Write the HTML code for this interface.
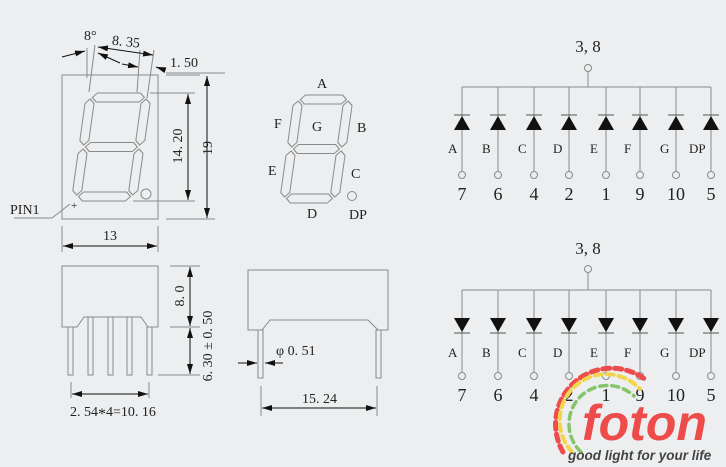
<!DOCTYPE html>
<html><head><meta charset="utf-8"><style>
html,body{margin:0;padding:0;background:#eceef0;}
svg{display:block;}
text{font-family:"Liberation Serif","DejaVu Serif",serif;fill:#222;}
</style></head><body>
<svg width="726" height="467" viewBox="0 0 726 467" xmlns="http://www.w3.org/2000/svg">
<defs>
<marker id="ar" viewBox="0 0 10 6" refX="10" refY="3" markerWidth="10" markerHeight="6" orient="auto-start-reverse" markerUnits="userSpaceOnUse"><path d="M0,0L10,3L0,6z" fill="#111"/></marker>
</defs>
<rect width="726" height="467" fill="#eceef0"/>

<!-- big front view -->
<g stroke="#8a8a8a" fill="none" stroke-width="1">
<rect x="62" y="75" width="96" height="144"/>
<g transform="translate(90,93) skewX(-8)">
<polygon points="3,4.5 7.5,0 50.5,0 55,4.5 50.5,9 7.5,9"/>
<polygon points="3,54 7.5,49.5 50.5,49.5 55,54 50.5,58.5 7.5,58.5"/>
<polygon points="3,103.5 7.5,99 50.5,99 55,103.5 50.5,108 7.5,108"/>
<polygon points="1,6 5.5,10.5 5.5,47.5 1,52 -3.5,47.5 -3.5,10.5"/>
<polygon points="57,6 61.5,10.5 61.5,47.5 57,52 52.5,47.5 52.5,10.5"/>
<polygon points="1,56 5.5,60.5 5.5,97.5 1,102 -3.5,97.5 -3.5,60.5"/>
<polygon points="57,56 61.5,60.5 61.5,97.5 57,102 52.5,97.5 52.5,60.5"/>
</g>
<circle cx="146" cy="194" r="5"/>
<line x1="87" y1="48" x2="87" y2="78"/>
<line x1="95" y1="45" x2="89" y2="92"/>
<line x1="140" y1="50" x2="137" y2="92"/>
<line x1="154" y1="50" x2="147" y2="98"/>
<line x1="166" y1="75" x2="200" y2="75"/>
<line x1="166" y1="73" x2="225" y2="73"/>
<line x1="150" y1="93" x2="195" y2="93"/>
<line x1="133" y1="201" x2="195" y2="201"/>
<line x1="166" y1="219" x2="215" y2="219"/>
<line x1="14" y1="218" x2="52" y2="218"/>
<line x1="52" y1="218" x2="70" y2="204"/>
<line x1="62" y1="226" x2="62" y2="252"/>
<line x1="158" y1="226" x2="158" y2="252"/>
</g>
<g stroke="#111" stroke-width="1" fill="none">
<line x1="62" y1="57" x2="85" y2="51" marker-end="url(#ar)"/>
<line x1="98" y1="47" x2="153" y2="55" marker-start="url(#ar)" marker-end="url(#ar)"/>
<line x1="98" y1="53" x2="120" y2="63" marker-start="url(#ar)"/>
<line x1="122" y1="64" x2="138" y2="67" marker-end="url(#ar)"/>
<line x1="165" y1="70" x2="156" y2="67" marker-end="url(#ar)"/>
<line x1="207" y1="76" x2="207" y2="218" marker-start="url(#ar)" marker-end="url(#ar)"/>
<line x1="188" y1="94" x2="188" y2="200" marker-start="url(#ar)" marker-end="url(#ar)"/>
<line x1="63" y1="246" x2="157" y2="246" marker-start="url(#ar)" marker-end="url(#ar)"/>
</g>
<text x="84" y="40" font-size="14">8°</text>
<text x="112" y="46" font-size="14" transform="rotate(6 125 42)">8. 35</text>
<text x="170" y="67" font-size="14">1. 50</text>
<text x="10" y="214" font-size="14">PIN1</text>
<text x="71" y="209" font-size="11">+</text>
<text x="103" y="240" font-size="14">13</text>
<text transform="translate(212,148) rotate(-90)" font-size="14" text-anchor="middle">19</text>
<text transform="translate(182,146) rotate(-90)" font-size="14" text-anchor="middle">14. 20</text>

<!-- lower left -->
<g stroke="#8a8a8a" fill="none" stroke-width="1">
<path d="M62,327 L62,266 L158,266 L158,327 L148,327 L141,317 L84,317 L77,327 Z"/>
<rect x="68" y="327" width="5" height="48"/><rect x="88" y="317" width="5" height="58"/><rect x="108" y="317" width="5" height="58"/><rect x="127" y="317" width="5" height="58"/><rect x="147" y="327" width="5" height="48"/>
<line x1="170" y1="266" x2="200" y2="266"/><line x1="170" y1="327" x2="200" y2="327"/><line x1="158" y1="375" x2="200" y2="375"/>
<line x1="71" y1="382" x2="71" y2="398"/><line x1="149" y1="382" x2="149" y2="398"/>
</g>
<g stroke="#111" stroke-width="1">
<line x1="190" y1="267" x2="190" y2="326" marker-start="url(#ar)" marker-end="url(#ar)"/>
<line x1="190" y1="328" x2="190" y2="374" marker-start="url(#ar)" marker-end="url(#ar)"/>
<line x1="72" y1="394" x2="148" y2="394" marker-start="url(#ar)" marker-end="url(#ar)"/>
</g>
<text transform="translate(184,296) rotate(-90)" font-size="14" text-anchor="middle">8. 0</text>
<text transform="translate(212,346) rotate(-90)" font-size="14" text-anchor="middle">6. 30 ± 0. 50</text>
<text x="70" y="416" font-size="14">2. 54<tspan font-size="16" dy="3">*</tspan><tspan dy="-3">4=10. 16</tspan></text>

<!-- side view -->
<g stroke="#8a8a8a" fill="none" stroke-width="1">
<path d="M248,330 L248,270 L388,270 L388,330 L378,330 L368,320 L270,320 L262,330 Z"/>
<rect x="258" y="330" width="5" height="48"/><rect x="376" y="330" width="5" height="48"/>
<line x1="261" y1="386" x2="261" y2="416"/><line x1="377" y1="386" x2="377" y2="416"/>
</g>
<g stroke="#111" stroke-width="1">
<line x1="238" y1="363" x2="257" y2="363" marker-end="url(#ar)"/>
<line x1="283" y1="363" x2="265" y2="363" marker-end="url(#ar)"/>
<line x1="262" y1="408" x2="376" y2="408" marker-start="url(#ar)" marker-end="url(#ar)"/>
</g>
<text x="276" y="355" font-size="14">φ 0. 51</text>
<text x="302" y="403" font-size="14">15. 24</text>

<!-- small digit -->
<g stroke="#8a8a8a" fill="none" stroke-width="1" transform="translate(298,95) skewX(-8)">
<polygon points="3,4.5 7.5,0 44.5,0 49,4.5 44.5,9 7.5,9"/>
<polygon points="3,54 7.5,49.5 44.5,49.5 49,54 44.5,58.5 7.5,58.5"/>
<polygon points="3,103.5 7.5,99 44.5,99 49,103.5 44.5,108 7.5,108"/>
<polygon points="1,6 5.5,10.5 5.5,47.5 1,52 -3.5,47.5 -3.5,10.5"/>
<polygon points="51,6 55.5,10.5 55.5,47.5 51,52 46.5,47.5 46.5,10.5"/>
<polygon points="1,56 5.5,60.5 5.5,97.5 1,102 -3.5,97.5 -3.5,60.5"/>
<polygon points="51,56 55.5,60.5 55.5,97.5 51,102 46.5,97.5 46.5,60.5"/>
</g>
<circle cx="352" cy="196" r="4.5" stroke="#8a8a8a" fill="none"/>
<g font-size="14">
<text x="317" y="88">A</text><text x="274" y="128">F</text><text x="312" y="131">G</text><text x="357" y="132">B</text>
<text x="268" y="175">E</text><text x="351" y="178">C</text><text x="307" y="218">D</text><text x="349" y="219">DP</text>
</g>

<!-- upper schematic -->
<g stroke="#8a8a8a" fill="none" stroke-width="1">
<circle cx="588" cy="68" r="3.5"/><line x1="588" y1="72" x2="588" y2="87"/>
<line x1="462" y1="87" x2="711" y2="87"/>
<line x1="462" y1="87" x2="462" y2="171"/><line x1="498" y1="87" x2="498" y2="171"/><line x1="534" y1="87" x2="534" y2="171"/><line x1="569" y1="87" x2="569" y2="171"/><line x1="606" y1="87" x2="606" y2="171"/><line x1="640" y1="87" x2="640" y2="171"/><line x1="676" y1="87" x2="676" y2="171"/><line x1="711" y1="87" x2="711" y2="171"/>
<g fill="#eceef0"><circle cx="462" cy="175" r="3.5"/><circle cx="498" cy="175" r="3.5"/><circle cx="534" cy="175" r="3.5"/><circle cx="569" cy="175" r="3.5"/><circle cx="606" cy="175" r="3.5"/><circle cx="640" cy="175" r="3.5"/><circle cx="676" cy="175" r="3.5"/><circle cx="711" cy="175" r="3.5"/></g>
<g stroke="#555"><line x1="454" y1="115" x2="470" y2="115"/><line x1="490" y1="115" x2="506" y2="115"/><line x1="526" y1="115" x2="542" y2="115"/><line x1="561" y1="115" x2="577" y2="115"/><line x1="598" y1="115" x2="614" y2="115"/><line x1="632" y1="115" x2="648" y2="115"/><line x1="668" y1="115" x2="684" y2="115"/><line x1="703" y1="115" x2="719" y2="115"/></g>
</g>
<g fill="#111">
<path d="M462,116l-8,14h16z"/><path d="M498,116l-8,14h16z"/><path d="M534,116l-8,14h16z"/><path d="M569,116l-8,14h16z"/><path d="M606,116l-8,14h16z"/><path d="M640,116l-8,14h16z"/><path d="M676,116l-8,14h16z"/><path d="M711,116l-8,14h16z"/>
</g>
<text x="588" y="52" font-size="17" text-anchor="middle">3, 8</text>
<g font-size="13"><text x="448" y="153">A</text><text x="482" y="153">B</text><text x="518" y="153">C</text><text x="553" y="153">D</text><text x="590" y="153">E</text><text x="624" y="153">F</text><text x="660" y="153">G</text><text x="689" y="153">DP</text></g>
<g font-size="18" text-anchor="middle"><text x="462" y="200">7</text><text x="498" y="200">6</text><text x="534" y="200">4</text><text x="569" y="200">2</text><text x="606" y="200">1</text><text x="640" y="200">9</text><text x="676" y="200">10</text><text x="711" y="200">5</text></g>

<!-- lower schematic -->
<g stroke="#8a8a8a" fill="none" stroke-width="1">
<circle cx="588" cy="269" r="3.5"/><line x1="588" y1="273" x2="588" y2="290"/>
<line x1="462" y1="290" x2="711" y2="290"/>
<line x1="462" y1="290" x2="462" y2="372"/><line x1="498" y1="290" x2="498" y2="372"/><line x1="534" y1="290" x2="534" y2="372"/><line x1="569" y1="290" x2="569" y2="372"/><line x1="606" y1="290" x2="606" y2="372"/><line x1="640" y1="290" x2="640" y2="372"/><line x1="676" y1="290" x2="676" y2="372"/><line x1="711" y1="290" x2="711" y2="372"/>
<g fill="#eceef0"><circle cx="462" cy="376" r="3.5"/><circle cx="498" cy="376" r="3.5"/><circle cx="534" cy="376" r="3.5"/><circle cx="569" cy="376" r="3.5"/><circle cx="606" cy="376" r="3.5"/><circle cx="640" cy="376" r="3.5"/><circle cx="676" cy="376" r="3.5"/><circle cx="711" cy="376" r="3.5"/></g>
<g stroke="#555"><line x1="454" y1="333" x2="470" y2="333"/><line x1="490" y1="333" x2="506" y2="333"/><line x1="526" y1="333" x2="542" y2="333"/><line x1="561" y1="333" x2="577" y2="333"/><line x1="598" y1="333" x2="614" y2="333"/><line x1="632" y1="333" x2="648" y2="333"/><line x1="668" y1="333" x2="684" y2="333"/><line x1="703" y1="333" x2="719" y2="333"/></g>
</g>
<g fill="#111">
<path d="M462,332l-8,-14h16z"/><path d="M498,332l-8,-14h16z"/><path d="M534,332l-8,-14h16z"/><path d="M569,332l-8,-14h16z"/><path d="M606,332l-8,-14h16z"/><path d="M640,332l-8,-14h16z"/><path d="M676,332l-8,-14h16z"/><path d="M711,332l-8,-14h16z"/>
</g>
<text x="588" y="254" font-size="17" text-anchor="middle">3, 8</text>
<g font-size="13"><text x="448" y="357">A</text><text x="482" y="357">B</text><text x="518" y="357">C</text><text x="553" y="357">D</text><text x="590" y="357">E</text><text x="624" y="357">F</text><text x="660" y="357">G</text><text x="689" y="357">DP</text></g>
<g font-size="18" text-anchor="middle"><text x="462" y="401">7</text><text x="498" y="401">6</text><text x="534" y="401">4</text><text x="569" y="401">2</text><text x="606" y="401">1</text><text x="640" y="401">9</text><text x="676" y="401">10</text><text x="711" y="401">5</text></g>

<!-- logo -->
<g fill="none" stroke-linecap="round" stroke-dasharray="7 5">
<path d="M563,452 A56,56 0 0 1 646,380" stroke="#ee4b4b" stroke-width="5"/>
<path d="M572,452 A46,46 0 0 1 640,389" stroke="#f2d54a" stroke-width="4"/>
<path d="M581,452 A37,37 0 0 1 634,396" stroke="#86c46c" stroke-width="3.5"/>
</g>
<text x="582" y="440" style="font-family:'Liberation Sans',sans-serif;font-size:50px;font-weight:bold;font-style:italic;fill:#ee4b4b">foton</text>
<text x="568" y="460" style="font-family:'Liberation Sans',sans-serif;font-size:13.5px;font-weight:bold;font-style:italic;fill:#444">good light for your life</text>
</svg>
</body></html>
